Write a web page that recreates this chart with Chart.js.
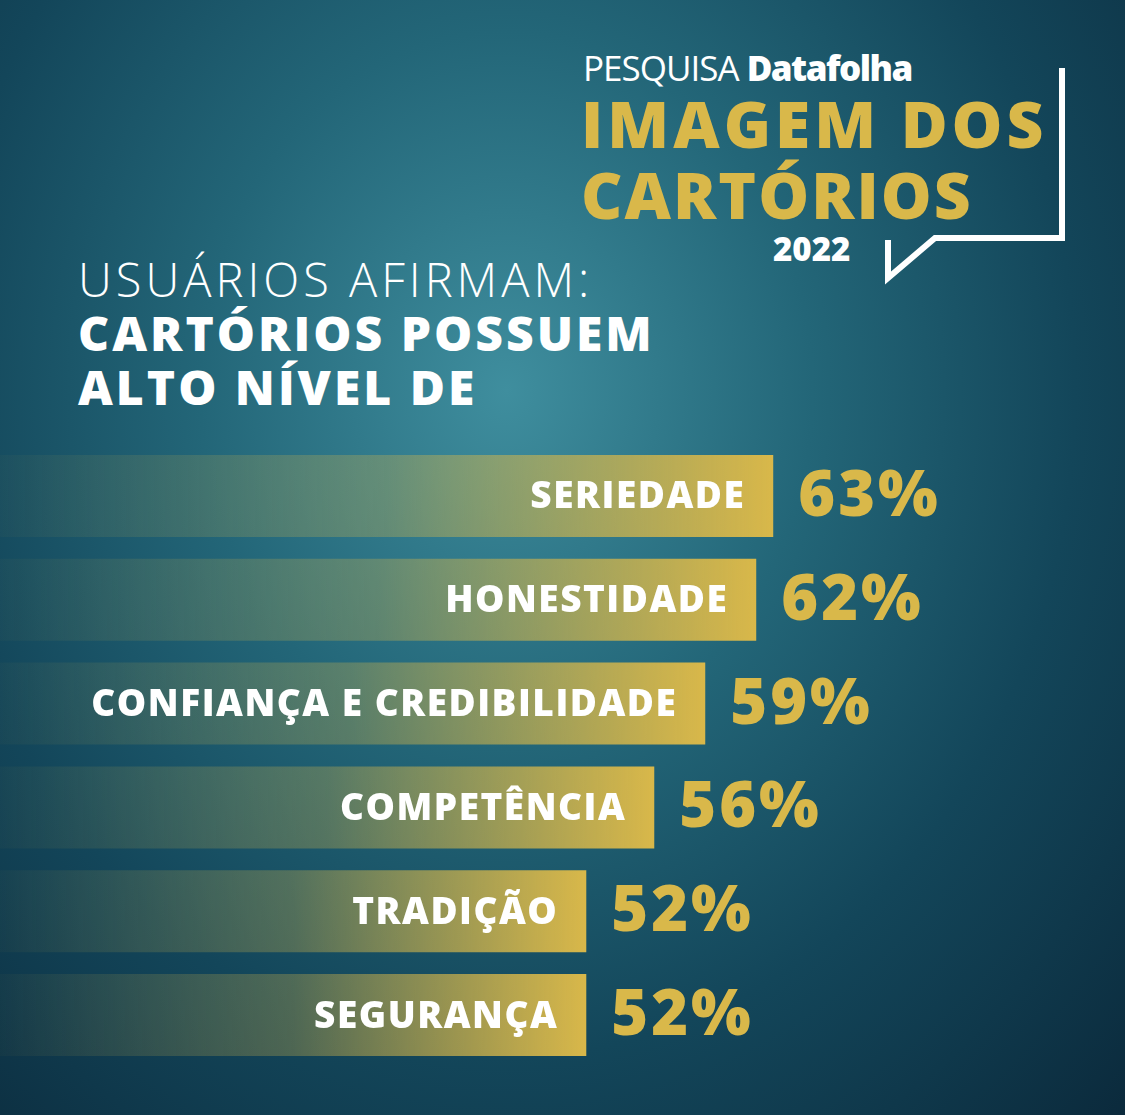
<!DOCTYPE html>
<html><head><meta charset="utf-8">
<script src="https://cdn.jsdelivr.net/npm/chart.js@4/dist/chart.umd.min.js"></script>
<style>
html,body{margin:0;padding:0;width:1125px;height:1115px;overflow:hidden;}
body{background:radial-gradient(ellipse at 45% 35%, #3f8e9e 0%, #236678 35%, #13465a 65%, #0b2a3c 100%);font-family:"Open Sans",Lato,sans-serif;position:relative;}
.t{position:absolute;white-space:nowrap;line-height:1;}
#wrap{position:absolute;left:0;top:444px;width:1125px;height:623px;}
</style></head><body>
<svg style="position:absolute;left:0;top:0" width="1125" height="1115">
<polyline points="1062,68 1062,238 935,238 888,278 888,240" fill="none" stroke="#fff" stroke-width="6" stroke-linejoin="miter"/>
</svg>
<div class="t" style="left:583px;top:50px;font-size:35px;color:#fff;font-weight:400;letter-spacing:-1px">PESQUISA <b style="font-weight:800;letter-spacing:-1.5px">Datafolha</b></div>
<div class="t" style="left:581px;top:92px;font-size:64px;color:#d9b84a;font-weight:800;letter-spacing:4px">IMAGEM DOS</div>
<div class="t" style="left:581px;top:163px;font-size:64px;color:#d9b84a;font-weight:800;letter-spacing:2px">CARTÓRIOS</div>
<div class="t" style="left:773px;top:232px;font-size:33px;color:#fff;font-weight:800">2022</div>
<div class="t" style="left:78px;top:256px;font-size:47px;color:#fff;font-weight:300;letter-spacing:4px">USUÁRIOS AFIRMAM:</div>
<div class="t" style="left:78px;top:309px;font-size:48px;color:#fff;font-weight:800;letter-spacing:3px">CARTÓRIOS POSSUEM</div>
<div class="t" style="left:78px;top:363px;font-size:48px;color:#fff;font-weight:800;letter-spacing:3px">ALTO NÍVEL DE</div>
<div id="wrap"><canvas id="c"></canvas></div>
<script>
const categories=["SERIEDADE","HONESTIDADE","CONFIANÇA E CREDIBILIDADE","COMPETÊNCIA","TRADIÇÃO","SEGURANÇA"];
const values=[63,62,59,56,52,52];
const percentLabels=["63%","62%","59%","56%","52%","52%"];
const gold="#d9b84a";
const labelPlugin={id:"lbl",afterDatasetsDraw(chart){
 const ctx=chart.ctx;const meta=chart.getDatasetMeta(0);
 meta.data.forEach((b,i)=>{
  ctx.save();ctx.textBaseline="middle";
  ctx.font="800 37px 'Open Sans'";ctx.fillStyle="#fff";ctx.textAlign="right";ctx.letterSpacing="1.5px";
  ctx.fillText(categories[i],b.x-28,b.y+2);
  ctx.font="800 63px 'Open Sans'";ctx.fillStyle=gold;ctx.textAlign="left";ctx.letterSpacing="3px";
  ctx.fillText(percentLabels[i],b.x+25,b.y+2);
  ctx.restore();
 });
}};
new Chart(document.getElementById("c"),{
 type:"bar",
 data:{labels:categories,datasets:[{data:values,
  backgroundColor(c){const ch=c.chart;if(!ch.chartArea)return gold;
   const end=ch.scales.x.getPixelForValue(values[c.dataIndex]);
   const g=ch.ctx.createLinearGradient(0,0,end,0);
   g.addColorStop(0,"rgba(217,184,74,0.03)");g.addColorStop(0.5,"rgba(217,184,74,0.3)");g.addColorStop(1,"rgba(217,184,74,1)");return g;},
  barPercentage:0.79,categoryPercentage:1}]},
 options:{indexAxis:"y",responsive:true,maintainAspectRatio:false,animation:false,
  layout:{padding:0},
  plugins:{legend:{display:false},tooltip:{enabled:false}},
  scales:{x:{min:17.5,max:83.7,display:false},y:{display:false}}},
 plugins:[labelPlugin]
});
</script></body></html>
